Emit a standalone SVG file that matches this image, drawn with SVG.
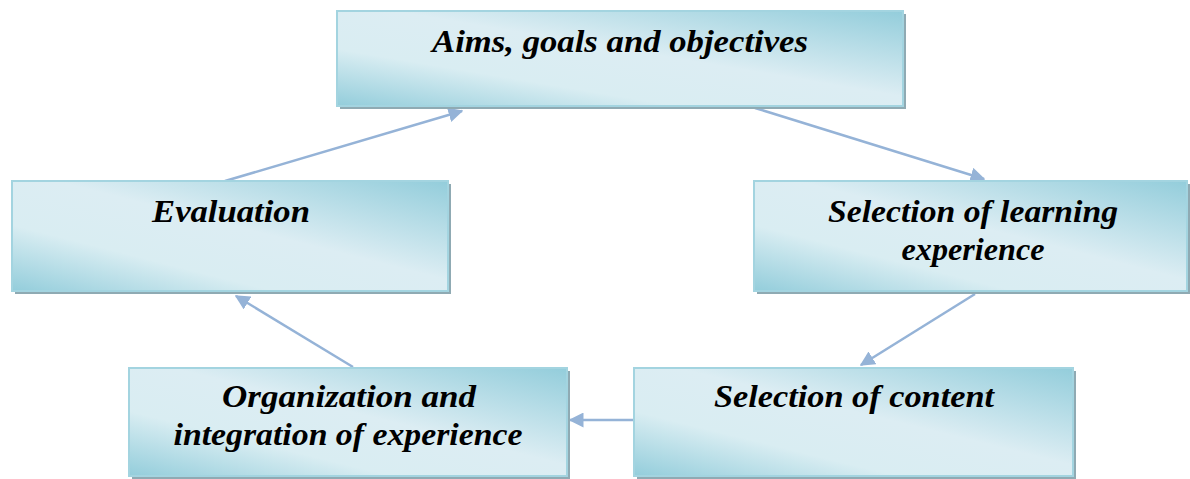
<svg xmlns="http://www.w3.org/2000/svg" width="1190" height="479" viewBox="0 0 1190 479">
<defs>
<linearGradient id="g" x1="0" y1="1" x2="1" y2="0">
<stop offset="0" stop-color="#93cddb"/>
<stop offset="0.3" stop-color="#d9edf2"/>
<stop offset="0.55" stop-color="#dcedf3"/>
<stop offset="1" stop-color="#93cddb"/>
</linearGradient>
<marker id="ah" viewBox="0 0 10 10" refX="9" refY="5" markerWidth="6" markerHeight="6" orient="auto" markerUnits="strokeWidth">
<path d="M0,0 L10,5 L0,10 z" fill="#95b3d7"/>
</marker>
</defs>
<style>
.sh{fill:#8faab3}
.bx{fill:url(#g);stroke:#a3d4e0;stroke-width:2}
.t{font-family:"Liberation Serif",serif;font-style:italic;font-weight:bold;font-size:31px;fill:#000;text-anchor:middle}
.c{stroke:#95b3d7;stroke-width:2.5;fill:none;marker-end:url(#ah)}
</style>
<rect x="0" y="0" width="1190" height="479" fill="#fff"/>
<g id="connectors">
<line class="c" x1="225" y1="181" x2="462" y2="111"/>
<line class="c" x1="755" y1="108" x2="984" y2="179"/>
<line class="c" x1="975" y1="294" x2="861" y2="365"/>
<line class="c" x1="634" y1="420" x2="570" y2="420"/>
<line class="c" x1="353" y1="367" x2="236" y2="296"/>
</g>
<g id="n1">
<rect class="sh" x="340" y="14" width="566" height="95"/>
<rect class="bx" x="337" y="11" width="566" height="95"/>
<text class="t" x="620" y="52" textLength="376" lengthAdjust="spacingAndGlyphs">Aims, goals and objectives</text>
</g>
<g id="n2">
<rect class="sh" x="757" y="184" width="433" height="110"/>
<rect class="bx" x="754" y="181" width="433" height="110"/>
<text class="t" x="973" y="222" textLength="290" lengthAdjust="spacingAndGlyphs">Selection of learning</text>
<text class="t" x="973" y="260" textLength="143" lengthAdjust="spacingAndGlyphs">experience</text>
</g>
<g id="n3">
<rect class="sh" x="637" y="371" width="439" height="108"/>
<rect class="bx" x="634" y="368" width="439" height="108"/>
<text class="t" x="854" y="407" textLength="280" lengthAdjust="spacingAndGlyphs">Selection of content</text>
</g>
<g id="n4">
<rect class="sh" x="132" y="371" width="438" height="108"/>
<rect class="bx" x="129" y="368" width="438" height="108"/>
<text class="t" x="349" y="407" textLength="254" lengthAdjust="spacingAndGlyphs">Organization and</text>
<text class="t" x="348" y="445" textLength="349" lengthAdjust="spacingAndGlyphs">integration of experience</text>
</g>
<g id="n5">
<rect class="sh" x="15" y="184" width="436" height="110"/>
<rect class="bx" x="12" y="181" width="436" height="110"/>
<text class="t" x="231" y="222" textLength="158" lengthAdjust="spacingAndGlyphs">Evaluation</text>
</g>
</svg>
